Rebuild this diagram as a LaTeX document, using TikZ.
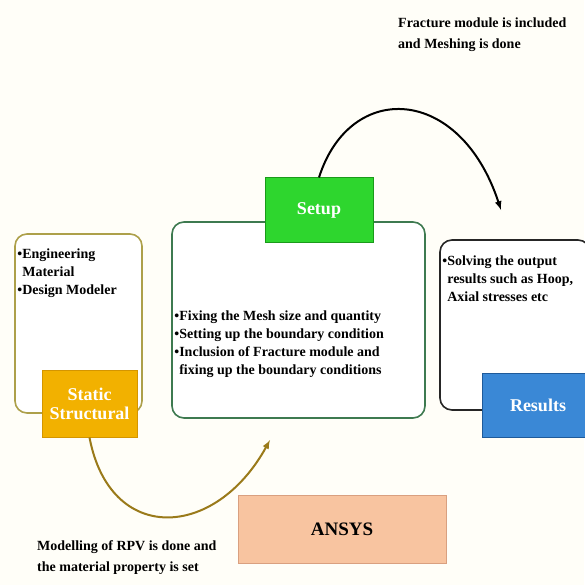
\documentclass[tikz,border=0pt]{standalone}
\usepackage{fontspec}
\setmainfont{Liberation Serif}
\usetikzlibrary{positioning}
\begin{document}
\begin{tikzpicture}[
            x=1pt, y=-1pt,
            >=latex,
            font=\bfseries,
            contentbox/.style={draw, rounded corners=12pt, line width=1.6pt, fill=white, inner sep=0pt},
            headbox/.style={draw, line width=1pt, text=white, inner sep=0pt, align=center, font=\bfseries\fontsize{18}{19}\selectfont},
            bodytext/.style={inner sep=0pt, align=left, font=\bfseries\fontsize{14}{18}\selectfont},
            flowarc/.style={->, line width=2pt}
        ]
		\definecolor{bgcream}{HTML}{FFFEF8}
		\definecolor{matolive}{HTML}{ADA04A}
		\definecolor{staticgold}{HTML}{F2B100}
		\definecolor{staticedge}{HTML}{D49500}
		\definecolor{setupedge}{HTML}{3E7A50}
		\definecolor{setupgreen}{HTML}{2ED62E}
		\definecolor{setupdark}{HTML}{1A9A1A}
		\definecolor{resblue}{HTML}{3A88D6}
		\definecolor{resdark}{HTML}{1E5A9A}
		\definecolor{ansyspeach}{HTML}{F8C4A0}
		\definecolor{ansysedge}{HTML}{D9A080}
		\definecolor{arcgold}{HTML}{9A7A1A}
		
		%Background
		\fill[bgcream] (0,0) rectangle (584,585);
		\useasboundingbox (0,0) rectangle (584,585);
		
		%Content boxes
		\node[contentbox, draw=matolive, minimum width=127, minimum height=179] (matbox) at (78.5,323.5) {};
		\node[contentbox, draw=setupedge, minimum width=253, minimum height=196] (setupbox) at (298.5,320) {};
		\node[contentbox, draw=black!85, minimum width=150, minimum height=170] (resbox) at (515,325) {};
		
		\node[bodytext, below right=15pt and 3pt of matbox.north west] (mattext) {\textbullet Engineering\\\phantom{\textbullet}Material\\\textbullet Design Modeler};
		\node[bodytext, below right=89pt and 3pt of setupbox.north west] (setuptext) {\textbullet Fixing the Mesh size and quantity\\\textbullet Setting up the boundary condition\\\textbullet Inclusion of Fracture module and\\\phantom{\textbullet}fixing up the boundary conditions};
		\node[bodytext, below right=16pt and 3pt of resbox.north west] (restext) {\textbullet Solving the output\\\phantom{\textbullet}results such as Hoop,\\\phantom{\textbullet}Axial stresses etc};
		
		%Stage nodes
		\node[headbox, fill=staticgold, draw=staticedge, minimum width=95, minimum height=67] (static) at (89.5,403.5) {Static\\Structural};
		\node[headbox, fill=setupgreen, draw=setupdark, minimum width=108, minimum height=64] (setup) at (319,210) {Setup};
		\node[headbox, fill=resblue, draw=resdark, minimum width=112, minimum height=64] (results) at (538,405) {Results};
		
		\node[draw=ansysedge, fill=ansyspeach, minimum width=208, minimum height=68, font=\bfseries\fontsize{19}{20}\selectfont] (ansys) at (342,529) {ANSYS};
		
		%Notes
		\node[bodytext, anchor=north west, font=\bfseries\fontsize{14}{21}\selectfont] (fracnote) at (398,18) {Fracture module is included\\and Meshing is done};
		\node[bodytext, anchor=north west, font=\bfseries\fontsize{14}{21}\selectfont] (modelnote) at (37,540) {Modelling of RPV is done and\\the material property is set};
		
		%Arcs
		\coordinate (setupend) at (501,210);
		\coordinate (staticend) at (270,440);
		\draw[flowarc, black] (setup.north) .. controls (350,80) and (460,85) .. (setupend);
		\draw[flowarc, arcgold] (static.south) .. controls (110,545) and (215,540) .. (staticend);
    \end{tikzpicture}
\end{document}
